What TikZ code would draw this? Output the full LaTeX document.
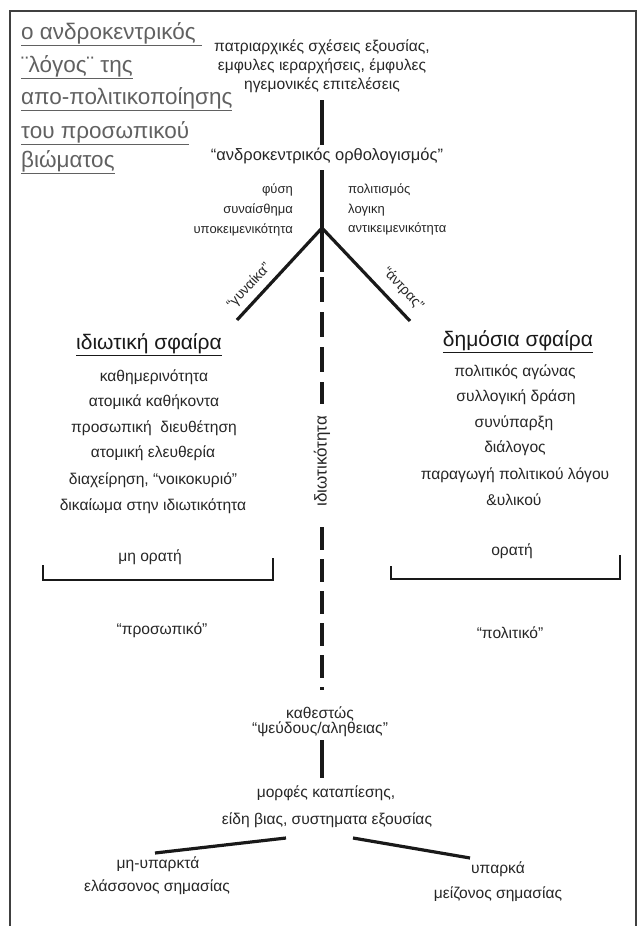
\documentclass[tikz,border=0pt]{standalone}
\usepackage{fontspec}
\setmainfont{Liberation Sans}
\begin{document}
\begin{tikzpicture}[x=1pt,y=-1pt,
  txt/.style={font=\fontsize{15.6}{18}\selectfont, inner sep=0pt, text=black!85},
  sml/.style={font=\fontsize{13}{15}\selectfont, inner sep=0pt, text=black!85},
  hd/.style={font=\fontsize{21}{24}\selectfont, inner sep=0pt, text=black!90},
  ttl/.style={font=\fontsize{22.5}{26}\selectfont, inner sep=0pt, text=black!62, anchor=base west},
  ln/.style={line width=3.2pt, black!90},
  thin/.style={line width=2.6pt, black!90},
  frame/.style={line width=1.3pt, black!75}]
\useasboundingbox (0,0) rectangle (640,926);
% frame
\coordinate (f1) at (10,930);
\coordinate (f2) at (10,11);
\coordinate (f3) at (636,11);
\coordinate (f4) at (636,930);
\draw[frame] (f1) -- (f2) -- (f3) -- (f4);

% title
\node[ttl] (t1) at (21,39) {\underline{ο ανδροκεντρικός\ }};
\node[ttl] (t2) at (21,72) {\underline{¨λόγος¨ της}};
\node[ttl] (t3) at (21,104) {\underline{απο-πολιτικοποίησης}};
\node[ttl] (t4) at (21,138) {\underline{του προσωπικού}};
\node[ttl] (t5) at (21,167) {\underline{βιώματος}};

% top block
\node[txt] (p1) at (322,47) {πατριαρχικές σχέσεις εξουσίας,};
\node[txt] (p2) at (322,66) {εμφυλες ιεραρχήσεις, έμφυλες};
\node[txt] (p3) at (322,85) {ηγεμονικές επιτελέσεις};
\coordinate (v1a) at (322,100);
\coordinate (v1b) at (322,145);
\draw[ln] (v1a) -- (v1b);
\node[txt, font=\fontsize{16.5}{19}\selectfont] (andro) at (327,156) {“ανδροκεντρικός ορθολογισμός”};
\coordinate (v2a) at (322,170);
\coordinate (j) at (322,228);
\coordinate (v2b) at (322,272);
\draw[ln] (v2a) -- (j) -- (v2b);

% side labels
\node[sml, anchor=east] (l1) at (293,190) {φύση};
\node[sml, anchor=east] (l2) at (293,210) {συναίσθημα};
\node[sml, anchor=east] (l3) at (293,230) {υποκειμενικότητα};
\node[sml, anchor=west] (r1) at (348,190) {πολιτισμός};
\node[sml, anchor=west] (r2) at (348,210) {λογικη};
\node[sml, anchor=west] (r3) at (348,229) {αντικειμενικότητα};

% branches
\coordinate (lb) at (237,320);
\coordinate (rb) at (410,321);
\draw[ln] (j) -- (lb);
\draw[ln] (j) -- (rb);
\node[sml, font=\fontsize{14}{16}\selectfont, rotate=47] (gyn) at (249,286) {“γυναίκα”};
\node[sml, font=\fontsize{14}{16}\selectfont, rotate=-47] (antr) at (403,289) {“άντρας”};

% dashed middle
\coordinate (d1a) at (322,277);
\coordinate (d1b) at (322,404);
\draw[ln, dash pattern=on 25pt off 10pt] (d1a) -- (d1b);
\node[txt, rotate=90, font=\fontsize{17}{20}\selectfont] (idiot) at (322,461) {ιδιωτικότητα};
\coordinate (d2a) at (322,527);
\coordinate (d2b) at (322,690);
\draw[ln, dash pattern=on 23pt off 9pt] (d2a) -- (d2b);

% private sphere
\node[hd] (priv) at (149,345) {\underline{ιδιωτική σφαίρα}};
\node[txt] (a1) at (154,377) {καθημερινότητα};
\node[txt] (a2) at (154,402) {ατομικά καθήκοντα};
\node[txt] (a3) at (154,428) {προσωπική\ \ διευθέτηση};
\node[txt] (a4) at (153,453) {ατομική ελευθερία};
\node[txt] (a5) at (153,480) {διαχείρηση, “νοικοκυριό”};
\node[txt] (a6) at (153,506) {δικαίωμα στην ιδιωτικότητα};

% public sphere
\node[hd] (pub) at (518,342) {\underline{δημόσια σφαίρα}};
\node[txt] (b1) at (515,372) {πολιτικός αγώνας};
\node[txt] (b2) at (516,397) {συλλογική δράση};
\node[txt] (b3) at (514,423) {συνύπαρξη};
\node[txt] (b4) at (515,448) {διάλογος};
\node[txt] (b5) at (515,475) {παραγωγή πολιτικού λόγου};
\node[txt] (b6) at (514,500) {\&υλικού};

% brackets
\node[txt] (inv) at (150,557) {μη ορατή};
\coordinate (k1) at (43,565);
\coordinate (k2) at (43,580);
\coordinate (k3) at (273,580);
\coordinate (k4) at (273,558);
\draw[thin] (k1) -- (k2) -- (k3) -- (k4);
\node[txt] (vis) at (512,551) {ορατή};
\coordinate (m1) at (391,566);
\coordinate (m2) at (391,579);
\coordinate (m3) at (620,579);
\coordinate (m4) at (620,555);
\draw[thin] (m1) -- (m2) -- (m3) -- (m4);
\node[txt] (pros) at (162,630) {“προσωπικό”};
\node[txt] (pol) at (510,633) {“πολιτικό”};

% status
\node[txt, align=center, font=\fontsize{15.6}{15}\selectfont] (kath) at (320,722) {καθεστώς\\“ψεύδους/αληθειας”};
\coordinate (v3a) at (322,740);
\coordinate (v3b) at (322,778);
\draw[ln] (v3a) -- (v3b);
\node[txt] (mor1) at (326,793) {μορφές καταπίεσης,};
\node[txt] (mor2) at (327,820) {είδη βιας, συστηματα εξουσίας};
\coordinate (e1) at (286,838);
\coordinate (e2) at (155,853);
\coordinate (e3) at (353,838);
\coordinate (e4) at (470,858);
\draw[ln] (e1) -- (e2);
\draw[ln] (e3) -- (e4);
\node[txt] (n1) at (158,864) {μη-υπαρκτά};
\node[txt] (n2) at (157,887) {ελάσσονος σημασίας};
\node[txt] (y1) at (498,869) {υπαρκά};
\node[txt] (y2) at (498,894) {μείζονος σημασίας};
\end{tikzpicture}
\end{document}
